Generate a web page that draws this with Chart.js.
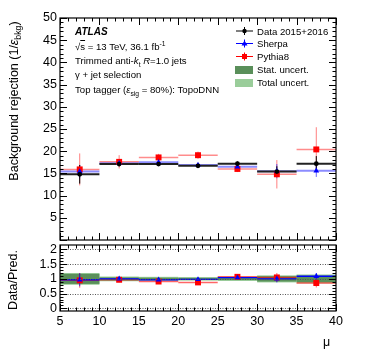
<!DOCTYPE html>
<html>
<head>
<meta charset="utf-8">
<script src="https://cdn.jsdelivr.net/npm/chart.js@4.4.1/dist/chart.umd.min.js"></script>
<style>
  body { margin: 0; background: #fff; font-family: "Liberation Sans", Arial, sans-serif; }
  #wrap { position: relative; width: 374px; height: 359px; overflow: hidden; }
  canvas { position: absolute; left: 0; top: 0; }
  .txt { position: absolute; font-size: 9.6px; color: #000; white-space: nowrap; line-height: 1; }
  .ax { position: absolute; font-size: 12.5px; white-space: nowrap; line-height: 1; }
  sub, sup { font-size: 70%; line-height: 0; }
</style>
</head>
<body>
<div id="wrap">
  <canvas id="top" width="374" height="359"></canvas>
  <canvas id="bot" width="374" height="359"></canvas>

  <div class="txt" style="left:75px;top:27px;font-weight:bold;font-style:italic;font-size:10px;">ATLAS</div>
  <div class="txt" style="left:75px;top:41.5px;">√<span style="text-decoration:overline">s</span> = 13 TeV, 36.1 fb<sup>-1</sup></div>
  <div class="txt" style="left:75px;top:56px;">Trimmed anti-<i>k</i><sub>t</sub> <i>R</i>=1.0 jets</div>
  <div class="txt" style="left:75px;top:70px;">γ + jet selection</div>
  <div class="txt" style="left:75px;top:84.5px;">Top tagger (<i>ε</i><sub>sig</sub> = 80%): TopoDNN</div>

  <svg style="position:absolute;left:230px;top:24px" width="30" height="70">
    <line x1="6" y1="7" x2="23" y2="7" stroke="#000" stroke-width="1"/>
    <line x1="14.5" y1="3" x2="14.5" y2="11" stroke="#000" stroke-width="1"/>
    <circle cx="14.5" cy="7" r="2.2" fill="#000"/>
    <line x1="6" y1="19.5" x2="23" y2="19.5" stroke="#00f" stroke-width="1"/>
    <line x1="14.5" y1="15.5" x2="14.5" y2="23.5" stroke="#00f" stroke-width="1"/>
    <polygon points="14.5,16.5 17.5,21.5 11.5,21.5" fill="#00f"/>
    <line x1="6" y1="32.5" x2="23" y2="32.5" stroke="#f00" stroke-width="1"/>
    <line x1="14.5" y1="28.5" x2="14.5" y2="36.5" stroke="#f00" stroke-width="1"/>
    <rect x="12" y="30" width="5" height="5" fill="#f00"/>
    <rect x="5" y="42" width="18" height="8" fill="#5a8f5a"/>
    <rect x="5" y="55" width="18" height="8" fill="#9acd9a"/>
  </svg>
  <div class="txt" style="left:257px;top:26.5px;">Data 2015+2016</div>
  <div class="txt" style="left:257px;top:39px;">Sherpa</div>
  <div class="txt" style="left:257px;top:52px;">Pythia8</div>
  <div class="txt" style="left:257px;top:65px;">Stat. uncert.</div>
  <div class="txt" style="left:257px;top:78px;">Total uncert.</div>

  <div class="ax" style="left:14px;top:101px;transform:translate(-50%,-50%) rotate(-90deg);">Background rejection (1/<i>ε</i><sub>bkg</sub>)</div>
  <div class="ax" style="left:13px;top:280px;transform:translate(-50%,-50%) rotate(-90deg);">Data/Pred.</div>
  <div class="ax" style="left:323px;top:336px;">μ</div>
</div>
<script>
// pile-up bins
const binLo = [5, 10, 15, 20, 25, 30, 35];
const binHi = [10, 15, 20, 25, 30, 35, 40];
const muCenter = [7.5, 12.5, 17.5, 22.5, 27.5, 32.5, 37.5];

// background rejection
const dataVals   = [14.8, 17.1, 17.1, 16.7, 17.2, 15.4, 17.2];
const dataErr    = [2.1, 0.5, 0.4, 0.4, 0.5, 1.2, 1.7];
const sherpaVals = [15.4, 17.3, 17.5, 16.9, 16.5, 15.5, 15.6];
const sherpaErr  = [1.5, 0.4, 0.4, 0.3, 0.5, 1.6, 1.4];
const pythiaVals = [15.9, 17.6, 18.6, 19.1, 16.0, 14.8, 20.4];
const pythiaErr  = [3.6, 1.5, 0.8, 0.8, 0.7, 3.2, 5.0];

// Data/Pred.
const ratioSherpa    = [0.97, 1.00, 0.97, 0.98, 1.04, 1.00, 1.09];
const ratioSherpaErr = [0.22, 0.05, 0.05, 0.04, 0.05, 0.12, 0.11];
const ratioPythia    = [0.95, 0.97, 0.91, 0.88, 1.07, 1.05, 0.86];
const ratioPythiaErr = [0.25, 0.08, 0.06, 0.06, 0.05, 0.15, 0.15];
const statUnc  = [0.17, 0.05, 0.04, 0.035, 0.04, 0.09, 0.11];
const totalUnc = [0.20, 0.08, 0.07, 0.06, 0.07, 0.12, 0.15];
const ratioTicks = [0, 0.5, 1, 1.5, 2];

const BLACK = '#000', BLUE = '#0000ff', RED = '#ff0000';

function pts(vals) { return vals.map((v, i) => ({ x: muCenter[i], y: v })); }

// bands, bin lines and error bars drawn through the chart scales
const errPlugin = {
  id: 'errs',
  beforeDatasetsDraw(chart, args, opts) {
    const ctx = chart.ctx, xs = chart.scales.x, ys = chart.scales.y;
    ctx.save();
    (opts.bands || []).forEach(b => {
      ctx.fillStyle = b.color;
      b.unc.forEach((u, i) => {
        const x0 = xs.getPixelForValue(binLo[i]), x1 = xs.getPixelForValue(binHi[i]);
        const y0 = ys.getPixelForValue(1 + u), y1 = ys.getPixelForValue(1 - u);
        ctx.fillRect(x0, y0, x1 - x0, y1 - y0);
      });
    });
    (opts.series || []).forEach(s => {
      s.vals.forEach((v, i) => {
        const y = ys.getPixelForValue(v);
        ctx.strokeStyle = s.hcol; ctx.lineWidth = s.hw;
        ctx.beginPath();
        ctx.moveTo(xs.getPixelForValue(binLo[i]), y);
        ctx.lineTo(xs.getPixelForValue(binHi[i]), y);
        ctx.stroke();
        const xc = xs.getPixelForValue(muCenter[i]);
        ctx.strokeStyle = s.vcol; ctx.lineWidth = 1;
        ctx.beginPath();
        ctx.moveTo(xc, ys.getPixelForValue(Math.min(v + s.err[i], ys.max)));
        ctx.lineTo(xc, ys.getPixelForValue(Math.max(v - s.err[i], ys.min)));
        ctx.stroke();
      });
    });
    ctx.restore();
  },
  afterDraw(chart, args, opts) {
    const ctx = chart.ctx, a = chart.chartArea, xs = chart.scales.x, ys = chart.scales.y;
    ctx.save();
    // dotted reference lines
    ctx.strokeStyle = '#555'; ctx.lineWidth = 1; ctx.setLineDash([1, 1.5]);
    (opts.grid || []).forEach(g => {
      const y = Math.round(ys.getPixelForValue(g)) + 0.5;
      ctx.beginPath(); ctx.moveTo(a.left, y); ctx.lineTo(a.right, y); ctx.stroke();
    });
    ctx.setLineDash([]);
    ctx.strokeStyle = '#000'; ctx.lineWidth = 1;
    ctx.beginPath();
    for (let v = xs.min; v <= xs.max + 1e-9; v += 1) {
      const x = Math.round(xs.getPixelForValue(v)) + 0.5;
      const L = (v % 5 === 0) ? 7 : 3.5;
      ctx.moveTo(x, a.bottom); ctx.lineTo(x, a.bottom - L);
      ctx.moveTo(x, a.top); ctx.lineTo(x, a.top + L);
    }
    const n = Math.round((opts.yMax - opts.yMin) / opts.minor);
    for (let k = 0; k <= n; k++) {
      const v = opts.yMin + k * opts.minor;
      const y = Math.round(ys.getPixelForValue(v)) + 0.5;
      const L = (k % opts.per === 0) ? 7 : 3.5;
      ctx.moveTo(a.left, y); ctx.lineTo(a.left + L, y);
      ctx.moveTo(a.right, y); ctx.lineTo(a.right - L, y);
    }
    ctx.stroke();
    ctx.lineWidth = 1.2;
    ctx.strokeRect(a.left, a.top, a.right - a.left, a.bottom - a.top);
    ctx.restore();
  }
};

function scatterSets(list) {
  return list.map(d => ({
    type: 'scatter', label: d.label, data: pts(d.vals),
    pointStyle: d.style, pointRadius: d.r, pointHoverRadius: d.r,
    backgroundColor: d.color, borderColor: d.color, borderWidth: 0
  }));
}

const tickFont = { family: 'Liberation Sans', size: 12.5 };

new Chart(document.getElementById('top'), {
  type: 'scatter',
  data: {
    datasets: scatterSets([
      { label: 'Data 2015+2016', vals: dataVals, style: 'circle', r: 2.4, color: BLACK },
      { label: 'Sherpa', vals: sherpaVals, style: 'triangle', r: 3.3, color: BLUE },
      { label: 'Pythia8', vals: pythiaVals, style: 'rect', r: 4.2, color: RED }
    ])
  },
  options: {
    responsive: false, animation: false, events: [],
    layout: { padding: { top: 18, right: 38, bottom: 119, left: 0 } },
    plugins: {
      legend: { display: false }, tooltip: { enabled: false },
      errs: {
        yMin: 0, yMax: 50, minor: 1, per: 5,
        series: [
          { vals: pythiaVals, err: pythiaErr, hcol: 'rgba(255,0,0,0.45)', vcol: 'rgba(255,0,0,0.5)', hw: 1.5 },
          { vals: sherpaVals, err: sherpaErr, hcol: 'rgba(0,0,255,0.45)', vcol: 'rgba(0,0,255,0.6)', hw: 2 },
          { vals: dataVals, err: dataErr, hcol: '#222', vcol: '#000', hw: 2 }
        ]
      }
    },
    scales: {
      x: { type: 'linear', min: 5, max: 40, display: false },
      y: {
        min: 0, max: 50,
        afterFit: s => { s.width = 60; },
        grid: { display: false, drawTicks: false }, border: { display: false },
        ticks: { stepSize: 5, padding: 3, color: '#000', font: tickFont,
                 callback: v => v === 0 ? '' : v }
      }
    }
  },
  plugins: [errPlugin]
});

new Chart(document.getElementById('bot'), {
  type: 'scatter',
  data: {
    datasets: scatterSets([
      { label: 'Sherpa', vals: ratioSherpa, style: 'triangle', r: 3.3, color: BLUE },
      { label: 'Pythia8', vals: ratioPythia, style: 'rect', r: 4.2, color: RED }
    ])
  },
  options: {
    responsive: false, animation: false, events: [],
    layout: { padding: { top: 245, right: 38, bottom: 0, left: 0 } },
    plugins: {
      legend: { display: false }, tooltip: { enabled: false },
      errs: {
        yMin: 0, yMax: 2, minor: 0.1, per: 5,
        grid: ratioTicks,
        bands: [
          { unc: totalUnc, color: '#9acd9a' },
          { unc: statUnc, color: '#5a8f5a' }
        ],
        series: [
          { vals: ratioPythia, err: ratioPythiaErr, hcol: 'rgba(255,0,0,0.6)', vcol: 'rgba(255,0,0,0.6)', hw: 1.5 },
          { vals: ratioSherpa, err: ratioSherpaErr, hcol: '#0000ff', vcol: 'rgba(0,0,255,0.7)', hw: 1.3 }
        ]
      }
    },
    scales: {
      x: {
        type: 'linear', min: 5, max: 40,
        afterFit: s => { s.height = 48; },
        grid: { display: false, drawTicks: false }, border: { display: false },
        ticks: { stepSize: 5, padding: 3, color: '#000', font: tickFont, maxRotation: 0 }
      },
      y: {
        min: -0.09, max: 2.15,
        afterFit: s => { s.width = 60; },
        afterBuildTicks: s => { s.ticks = ratioTicks.map(v => ({ value: v })); },
        grid: { display: false, drawTicks: false }, border: { display: false },
        ticks: { padding: 3, color: '#000', font: tickFont, autoSkip: false,
                 callback: v => String(v) }
      }
    }
  },
  plugins: [errPlugin]
});
</script>
</body>
</html>
